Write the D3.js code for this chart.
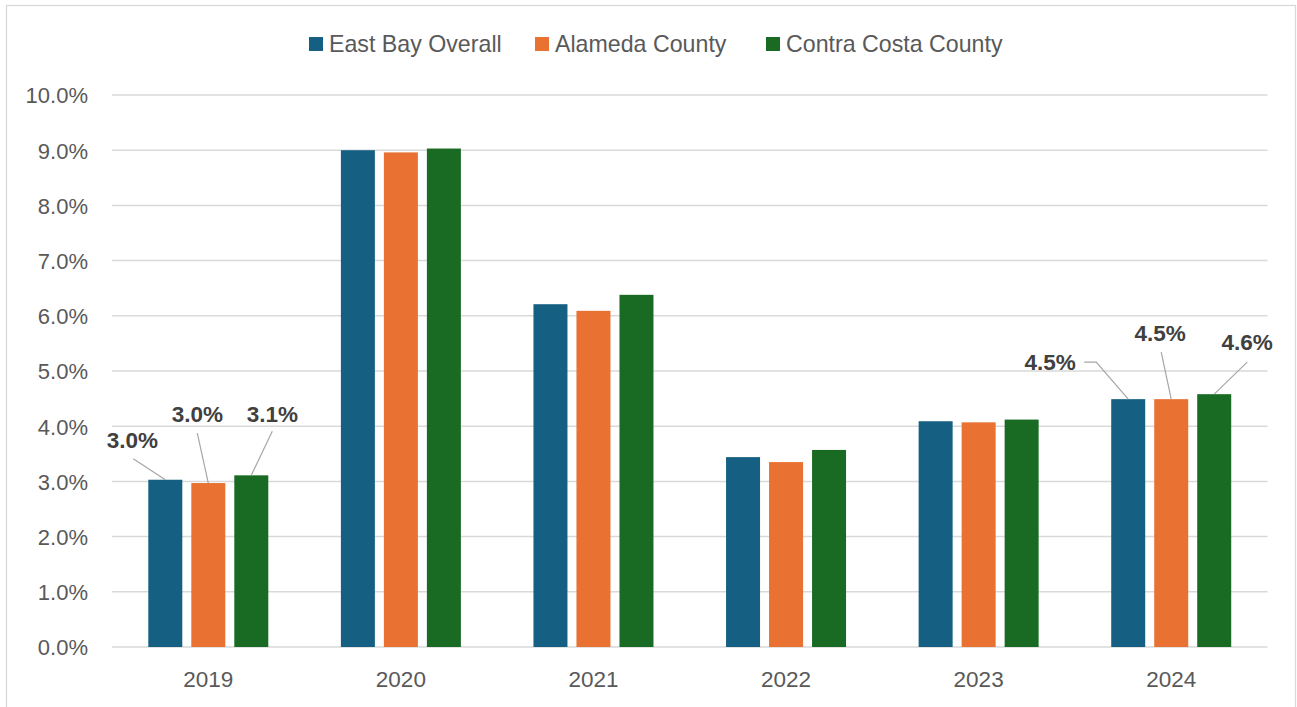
<!DOCTYPE html>
<html>
<head>
<meta charset="utf-8">
<script src="https://cdn.jsdelivr.net/npm/d3@7"></script>
<style>
  html, body { margin: 0; padding: 0; background: #fff; }
  svg { display: block; font-family: "Liberation Sans", Arial, sans-serif; }
</style>
</head>
<body>
<svg id="chart" width="1297" height="707"></svg>
<script>
// ---- data ----
const years = ["2019", "2020", "2021", "2022", "2023", "2024"];
const seriesNames = ["East Bay Overall", "Alameda County", "Contra Costa County"];
const eastBay = [3.03, 9.00, 6.21, 3.44, 4.09, 4.49];
const alameda = [2.97, 8.96, 6.09, 3.35, 4.07, 4.49];
const contraCosta = [3.11, 9.03, 6.38, 3.57, 4.12, 4.58];
const yTicks = [0, 1, 2, 3, 4, 5, 6, 7, 8, 9, 10];
const labeledYears = ["2019", "2024"];

// ---- styles / layout ----
const colors = ["#156082", "#E97132", "#196B24"];
const seriesValues = [eastBay, alameda, contraCosta];
// label placement (offsets from bar top-centre): label anchor (lx, ly), leader start (sx, sy), optional elbow (ex)
const labelLayout = {
  "2019": [
    { lx: -33, ly: -32, sx: -32, sy: -21 },
    { lx: -11, ly: -61, sx: -11, sy: -50 },
    { lx: 21, ly: -53, sx: 21, sy: -44 }
  ],
  "2024": [
    { lx: -78, ly: -29, sx: -44, sy: -37, ex: -32 },
    { lx: -11, ly: -58, sx: -10, sy: -47 },
    { lx: 33, ly: -44, sx: 33, sy: -32 }
  ]
};

const svg = d3.select("#chart");
const plot = { left: 112, right: 1267.5, top: 95, bottom: 647 };

// outer border
svg.append("rect")
  .attr("x", 6.5).attr("y", 5.5)
  .attr("width", 1289).attr("height", 720)
  .attr("fill", "#fff").attr("stroke", "#d9d9d9").attr("stroke-width", 1.3);

const x0 = d3.scaleBand().domain(years).range([plot.left, plot.right]).padding(0);
const x1 = d3.scaleBand().domain(seriesNames)
  .range([36.3, 156.3]).paddingInner(9 / 43).paddingOuter(0);
const y = d3.scaleLinear().domain([0, 10]).range([plot.bottom, plot.top]);

// gridlines
svg.append("g")
  .selectAll("line")
  .data(yTicks)
  .join("line")
  .attr("x1", plot.left).attr("x2", plot.right)
  .attr("y1", d => y(d)).attr("y2", d => y(d))
  .attr("stroke", "#d9d9d9").attr("stroke-width", 1.5);

// y axis labels
const yAxis = d3.axisLeft(y).tickValues(yTicks).tickSize(0).tickPadding(0)
  .tickFormat(d => d3.format(".1f")(d) + "%");
const yg = svg.append("g").attr("transform", `translate(88,0)`).call(yAxis);
yg.select(".domain").remove();
yg.selectAll("text")
  .attr("fill", "#595959").attr("font-size", 22)
  .attr("font-family", "Liberation Sans, Arial, sans-serif")
  .attr("dy", "0.36em").attr("x", 0);

// x axis labels
const xAxis = d3.axisBottom(x0).tickSize(0).tickPadding(0);
const xg = svg.append("g").attr("transform", `translate(0,${plot.bottom})`).call(xAxis);
xg.select(".domain").remove();
xg.selectAll("text")
  .attr("fill", "#595959").attr("font-size", 22.5)
  .attr("font-family", "Liberation Sans, Arial, sans-serif")
  .attr("y", 40).attr("dy", 0);

// bars
const rows = [];
years.forEach((yr, i) => {
  seriesNames.forEach((s, j) => rows.push({ year: yr, series: s, j, value: seriesValues[j][i] }));
});
svg.append("g")
  .selectAll("rect")
  .data(rows)
  .join("rect")
  .attr("x", d => x0(d.year) + x1(d.series))
  .attr("y", d => y(d.value))
  .attr("width", x1.bandwidth())
  .attr("height", d => y(0) - y(d.value))
  .attr("fill", d => colors[d.j]);

// data labels with leader lines
const lab = rows.filter(d => labeledYears.includes(d.year));
const lg = svg.append("g");
lab.forEach(d => {
  const L = labelLayout[d.year][d.j];
  const cx = x0(d.year) + x1(d.series) + x1.bandwidth() / 2;
  const cy = y(d.value);
  const pts = [[cx + L.sx, cy + L.sy]];
  if (L.ex !== undefined) pts.push([cx + L.ex, cy + L.sy]);
  pts.push([cx, cy]);
  lg.append("path")
    .attr("d", d3.line()(pts))
    .attr("fill", "none").attr("stroke", "#a6a6a6").attr("stroke-width", 1.2);
  lg.append("text")
    .attr("x", cx + L.lx).attr("y", cy + L.ly)
    .attr("text-anchor", "middle")
    .attr("font-size", 22.5).attr("font-weight", "bold")
    .attr("fill", "#404040")
    .text(d3.format(".1f")(d.value) + "%");
});

// legend
const legendX = [309, 535, 766];
const leg = svg.append("g");
seriesNames.forEach((s, j) => {
  leg.append("rect")
    .attr("x", legendX[j]).attr("y", 37)
    .attr("width", 14).attr("height", 14)
    .attr("fill", colors[j]);
  leg.append("text")
    .attr("x", legendX[j] + 20).attr("y", 44)
    .attr("dy", "0.36em")
    .attr("font-size", 23.2).attr("fill", "#595959")
    .text(s);
});
</script>
</body>
</html>
